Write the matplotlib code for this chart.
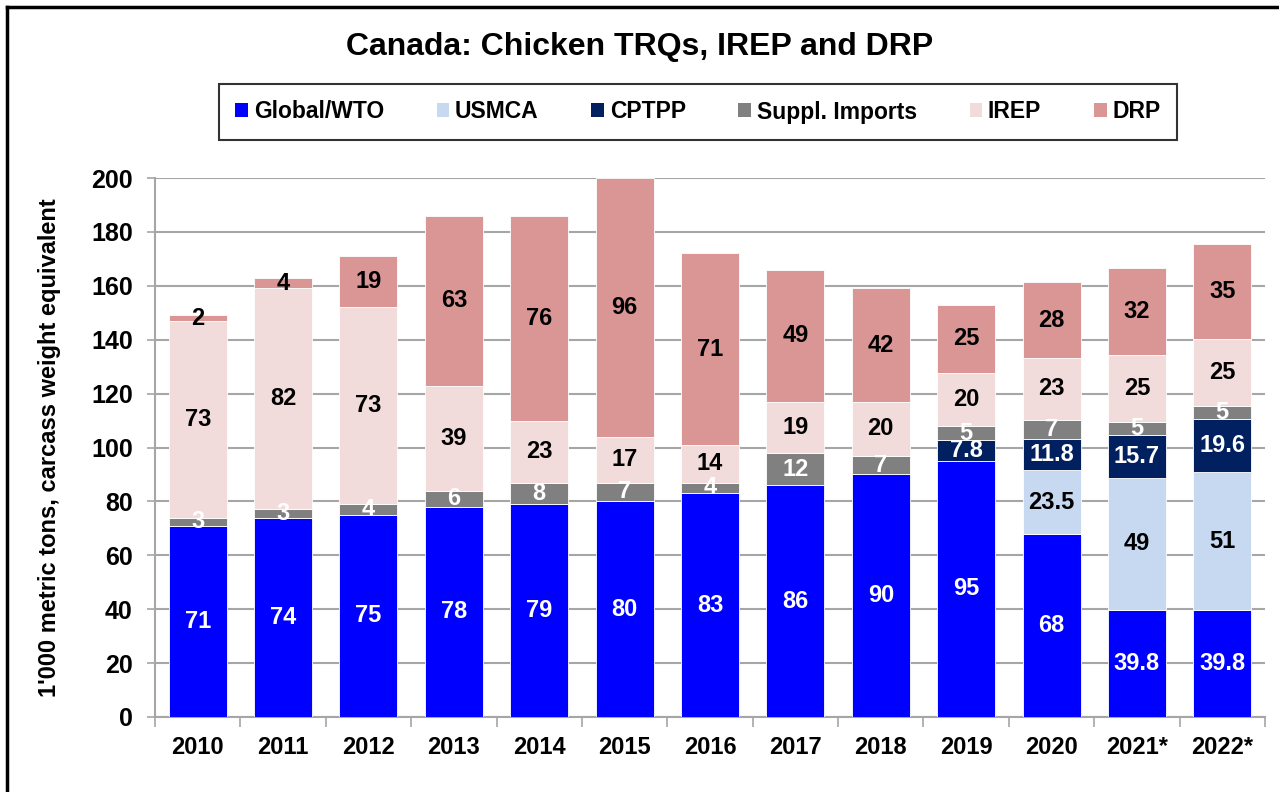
import matplotlib
matplotlib.use("Agg")
import matplotlib.pyplot as plt
import numpy as np
from matplotlib.lines import Line2D
from matplotlib.patches import Patch

plt.rcParams["font.family"] = ["Liberation Sans", "DejaVu Sans"]
plt.rcParams["font.weight"] = "bold"

years = ["2010", "2011", "2012", "2013", "2014", "2015", "2016",
         "2017", "2018", "2019", "2020", "2021*", "2022*"]
global_wto = [71, 74, 75, 78, 79, 80, 83, 86, 90, 95, 68, 39.8, 39.8]
usmca = [0, 0, 0, 0, 0, 0, 0, 0, 0, 0, 23.5, 49, 51]
cptpp = [0, 0, 0, 0, 0, 0, 0, 0, 0, 7.8, 11.8, 15.7, 19.6]
suppl = [3, 3, 4, 6, 8, 7, 4, 12, 7, 5, 7, 5, 5]
irep = [73, 82, 73, 39, 23, 17, 14, 19, 20, 20, 23, 25, 25]
drp = [2, 4, 19, 63, 76, 96, 71, 49, 42, 25, 28, 32, 35]

series = [
    ("Global/WTO", global_wto, "#0000FF", "white"),
    ("USMCA", usmca, "#C6D9F1", "black"),
    ("CPTPP", cptpp, "#002060", "white"),
    ("Suppl. Imports", suppl, "#808080", "white"),
    ("IREP", irep, "#F2DCDB", "black"),
    ("DRP", drp, "#D99694", "black"),
]

fig = plt.figure(figsize=(12.79, 7.92), dpi=100)
ax = fig.add_axes([155 / 1279, 1 - 717 / 792, 1110 / 1279, 539 / 792])

x = np.arange(len(years))
bottom = np.zeros(len(years))
for name, vals, color, tcol in series:
    vals = np.asarray(vals, dtype=float)
    ax.bar(x, vals, 0.68, bottom=bottom, color=color, edgecolor="white",
           linewidth=0.6, zorder=3)
    for xi, b, v in zip(x, bottom, vals):
        if v <= 0:
            continue
        ax.text(xi, b + v / 2, f"{v:g}", ha="center", va="center", color=tcol,
                fontsize=17, fontweight="bold", zorder=4)
    bottom += vals

ax.set_xlim(-0.5, len(years) - 0.5)
ax.set_ylim(0, 200)
ax.set_yticks(np.arange(0, 201, 20))
ax.yaxis.grid(True, color="#A6A6A6", linewidth=1.5, zorder=0)
ax.set_axisbelow(True)
ax.set_xticks(x)
ax.set_xticklabels(years, fontsize=17, fontweight="bold")
ax.set_xticks(np.arange(-0.5, len(years)), minor=True)
ax.tick_params(axis="x", which="major", length=0, pad=14)
ax.tick_params(axis="x", which="minor", length=7, color="#A6A6A6", width=1.2)
ax.tick_params(axis="y", length=6, color="#A6A6A6", width=1.2, labelsize=18, pad=10)
for lbl in ax.get_yticklabels():
    lbl.set_fontweight("bold")
for side in ("top", "right"):
    ax.spines[side].set_visible(False)
for side in ("left", "bottom"):
    ax.spines[side].set_color("#A6A6A6")
    ax.spines[side].set_linewidth(1.5)

ax.set_ylabel("1'000 metric tons, carcass weight equivalent", fontsize=17,
              fontweight="bold")
ax.yaxis.set_label_coords(-0.085, 0.5)

fig.text(0.5, 1 - 47 / 792, "Canada: Chicken TRQs, IREP and DRP",
         ha="center", va="center", fontsize=23, fontweight="bold")

handles = [Patch(facecolor=c, edgecolor="none") for _, _, c, _ in series]
leg = fig.legend(handles, [s[0] for s in series], ncol=6,
                 loc="center", bbox_to_anchor=(698 / 1279, 1 - 112 / 792),
                 fontsize=16.5, frameon=True, fancybox=False, handlelength=0.55,
                 handleheight=0.55, handletextpad=0.25, columnspacing=2.3,
                 borderpad=0.7, borderaxespad=0)
leg.get_frame().set_edgecolor("black")
leg.get_frame().set_linewidth(1.5)
for t in leg.get_texts():
    t.set_fontweight("bold")

# outer chart border (only left and top edges are in frame)
fig.add_artist(Line2D([7 / 1279, 7 / 1279], [0, 1 - 7 / 792], color="black",
                      linewidth=2.5, transform=fig.transFigure))
fig.add_artist(Line2D([7 / 1279, 1], [1 - 7 / 792, 1 - 7 / 792], color="black",
                      linewidth=2.5, transform=fig.transFigure))

fig.savefig("out.png", dpi=100)
